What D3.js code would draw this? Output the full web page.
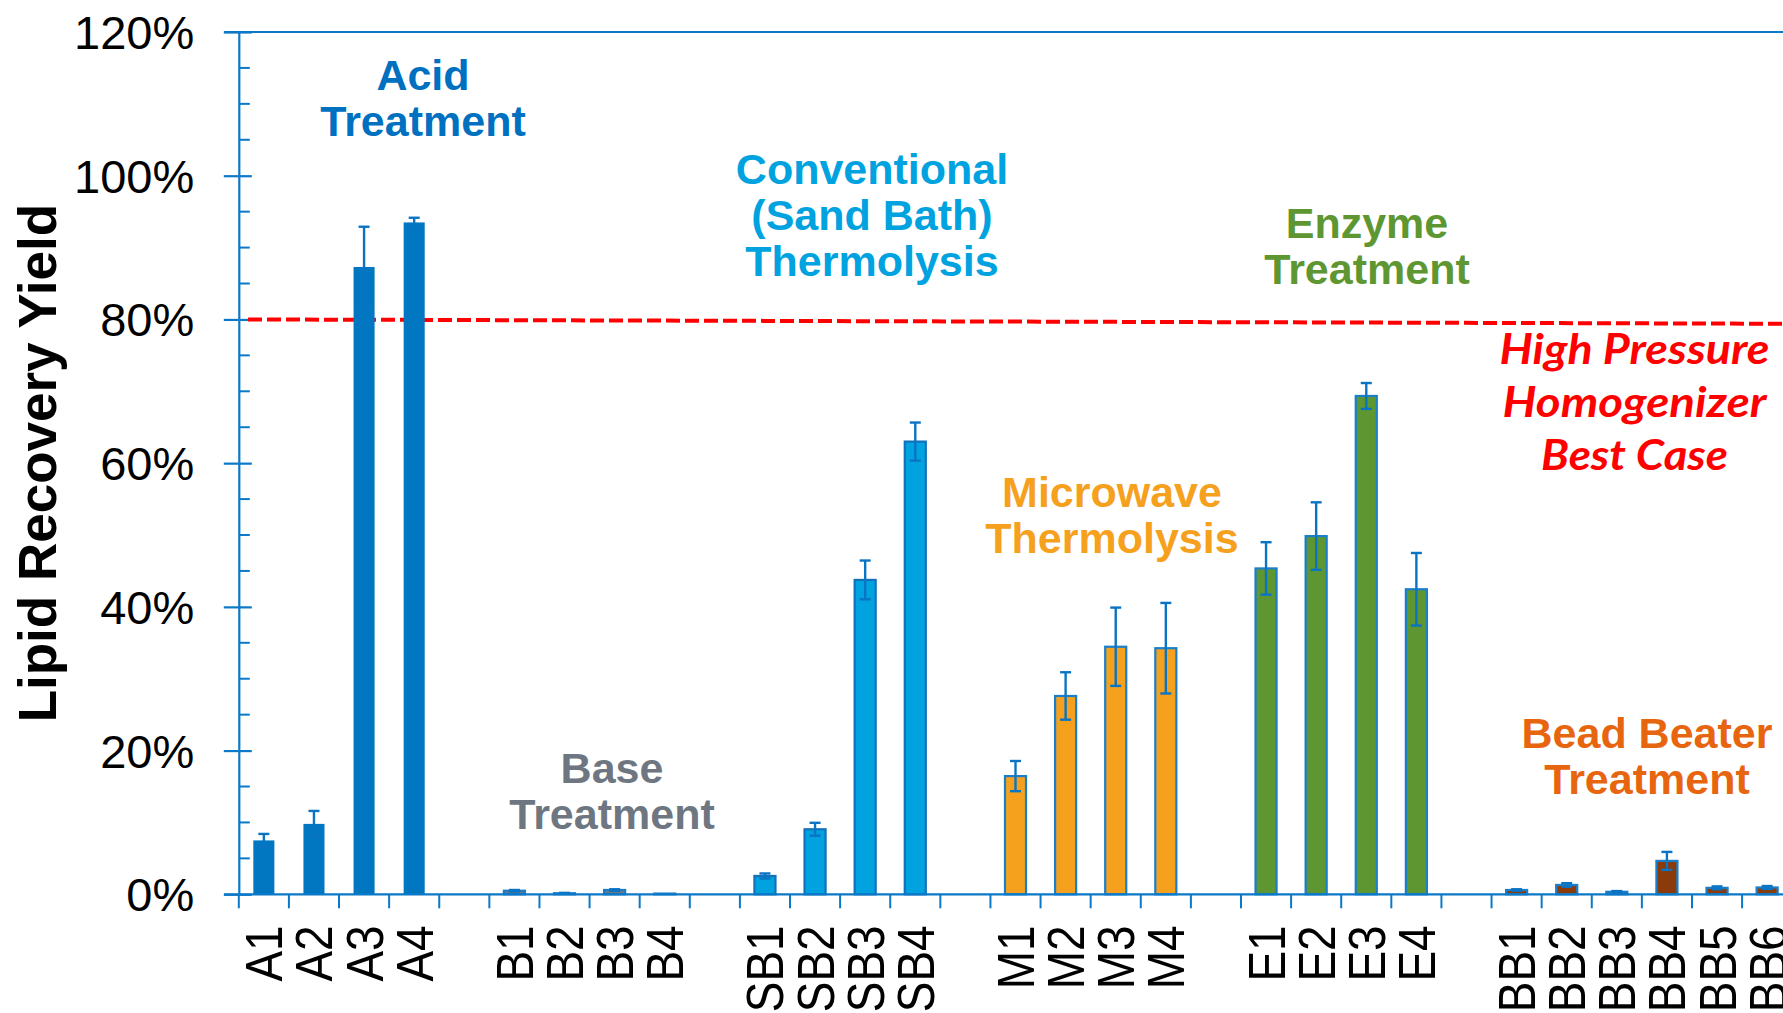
<!DOCTYPE html>
<html><head><meta charset="utf-8">
<script src="https://cdn.jsdelivr.net/npm/d3@7"></script>
<style>html,body{margin:0;padding:0;background:#fff;} svg{display:block;}</style>
</head><body><svg id="c" width="1783" height="1013"></svg>
<script>
// ---------- data ----------
const labels = ["A1","A2","A3","A4","",
  "B1","B2","B3","B4","",
  "SB1","SB2","SB3","SB4","",
  "M1","M2","M3","M4","",
  "E1","E2","E3","E4","",
  "BB1","BB2","BB3","BB4","BB5","BB6"];
const groups = ["A","A","A","A","",
  "B","B","B","B","",
  "SB","SB","SB","SB","",
  "M","M","M","M","",
  "E","E","E","E","",
  "BB","BB","BB","BB","BB","BB"];
const values = [7.5, 9.8, 87.3, 93.5, null,
  0.5, 0.15, 0.6, 0.1, null,
  2.55, 9.05, 43.75, 63.0, null,
  16.45, 27.6, 34.45, 34.25, null,
  45.35, 49.85, 69.35, 42.45, null,
  0.6, 1.3, 0.35, 4.65, 0.9, 0.95];
const errors = [0.9, 1.8, 5.6, 0.65, null,
  0.1, 0.05, 0.1, 0.0, null,
  0.35, 0.9, 2.7, 2.65, null,
  2.1, 3.3, 5.45, 6.3, null,
  3.65, 4.7, 1.8, 5.05, null,
  0.1, 0.25, 0.1, 1.25, 0.2, 0.2];
const yTicks = [0, 20, 40, 60, 80, 100, 120];
const refLine = [80, 79.4]; // "High Pressure Homogenizer Best Case" level (start, end)
const groupLabels = [
  {g:"A",  lines:["Acid","Treatment"]},
  {g:"SB", lines:["Conventional","(Sand Bath)","Thermolysis"]},
  {g:"B",  lines:["Base","Treatment"]},
  {g:"M",  lines:["Microwave","Thermolysis"]},
  {g:"E",  lines:["Enzyme","Treatment"]},
  {g:"BB", lines:["Bead Beater","Treatment"]}
];
const refLabel = ["High Pressure","Homogenizer","Best Case"];
const yTitle = "Lipid Recovery Yield";

// ---------- styles ----------
const fill = {A:"#0077C0", B:"#6E7781", SB:"#00A3E0", M:"#F5A11E", E:"#5E9732", BB:"#8B3A0A"};
const stroke = {A:"#0077C0", B:"#1A7BC6", SB:"#1371B9", M:"#1A7FCB", E:"#1A7FCB", BB:"#1A7FCB"};
const textColor = {A:"#0070C0", SB:"#00A3E0", B:"#6E7781", M:"#F5A11E", E:"#5E9732", BB:"#E8650F"};
const labelPos = {A:[423,90], SB:[872,183.5], B:[612,782.5], M:[1112,506.5], E:[1367,237.5], BB:[1647,747.5]};
const axisColor = "#0B78C8";

const svg = d3.select("#c");
const W = 1783;
const y = d3.scaleLinear().domain([0,120]).range([894.3, 32]);
const x0 = 238.8, x1 = 1792.2;
const x = d3.scaleBand().domain(d3.range(labels.length)).range([x0, x1]).paddingInner(0.58).paddingOuter(0.29);
const xb = d3.scaleLinear().domain([0, labels.length]).range([x0, x1]);

// top border line
svg.append("line").attr("x1",224).attr("x2",W).attr("y1",y(120)).attr("y2",y(120))
  .attr("stroke",axisColor).attr("stroke-width",2.2);

// y axis
const ya = svg.append("g").attr("transform",`translate(${x0},0)`)
  .call(d3.axisLeft(y).tickValues(yTicks).tickFormat(d=>d+"%").tickSize(15).tickSizeOuter(0));
ya.select(".domain").attr("stroke",axisColor).attr("stroke-width",2.2);
ya.selectAll(".tick line").attr("stroke",axisColor).attr("stroke-width",2.2).attr("x1",13);
ya.selectAll(".tick text").attr("x",-44.5).attr("dy",null).attr("dominant-baseline",null)
  .attr("y",16.5).attr("fill","#000").attr("font-family","'Liberation Sans',Arial,sans-serif")
  .attr("font-size",47);
// minor ticks
const minor = d3.range(5,120,5).filter(v=>v%20!==0);
svg.append("g").selectAll("line").data(minor).join("line")
  .attr("x1",x0).attr("x2",x0+11).attr("y1",d=>y(d)).attr("y2",d=>y(d))
  .attr("stroke",axisColor).attr("stroke-width",2);

// y title
svg.append("text").attr("transform",`translate(55.5,${(y(0)+y(120))/2}) rotate(-90)`)
  .attr("text-anchor","middle").attr("font-family","'Liberation Sans',Arial,sans-serif")
  .attr("font-weight","bold").attr("font-size",53).attr("fill","#000").text(yTitle);

// reference dashed line
svg.append("line").attr("x1",248).attr("x2",W).attr("y1",y(refLine[0])).attr("y2",y(refLine[1]))
  .attr("stroke","#FF0000").attr("stroke-width",4).attr("stroke-dasharray","14,5");

// bars
const idx = d3.range(labels.length).filter(i=>values[i]!==null);
svg.append("g").selectAll("rect").data(idx).join("rect")
  .attr("x",i=>x(i)).attr("width",x.bandwidth())
  .attr("y",i=>y(values[i])).attr("height",i=>y(0)-y(values[i]))
  .attr("fill",i=>fill[groups[i]]).attr("stroke",i=>stroke[groups[i]])
  .attr("stroke-width",i=>groups[i]==="A"?0:2.2);

// error bars
const eg = svg.append("g").attr("stroke","#0A74C4").attr("stroke-width",2.4);
idx.filter(i=>errors[i]>0).forEach(i=>{
  const cx = x(i)+x.bandwidth()/2, hi = y(values[i]+errors[i]), lo = y(Math.max(0,values[i]-errors[i]));
  eg.append("line").attr("x1",cx).attr("x2",cx).attr("y1",hi).attr("y2",lo);
  eg.append("line").attr("x1",cx-5.5).attr("x2",cx+5.5).attr("y1",hi).attr("y2",hi);
  eg.append("line").attr("x1",cx-5.5).attr("x2",cx+5.5).attr("y1",lo).attr("y2",lo);
});

// x axis
svg.append("line").attr("x1",224).attr("x2",W).attr("y1",y(0)).attr("y2",y(0))
  .attr("stroke",axisColor).attr("stroke-width",2.2);
svg.append("g").selectAll("line").data(d3.range(labels.length+1)).join("line")
  .attr("x1",d=>xb(d)).attr("x2",d=>xb(d)).attr("y1",y(0)).attr("y2",y(0)+14)
  .attr("stroke",axisColor).attr("stroke-width",2);
const xa = svg.append("g").attr("transform",`translate(0,${y(0)})`)
  .call(d3.axisBottom(x).tickFormat(i=>labels[i]).tickSize(0));
xa.select(".domain").remove();
xa.selectAll(".tick text").attr("transform","translate(18.5,31) scale(1.12,1) rotate(-90)")
  .attr("text-anchor","end").attr("dy",null).attr("y",0).attr("x",0)
  .attr("fill","#000").attr("font-family","'Liberation Sans',Arial,sans-serif").attr("font-size",46);

// group labels
groupLabels.forEach(gl=>{
  const [cx,by] = labelPos[gl.g];
  const t = svg.append("text").attr("text-anchor","middle")
    .attr("font-family","'Liberation Sans',Arial,sans-serif").attr("font-weight","bold")
    .attr("font-size",43).attr("fill",textColor[gl.g]);
  gl.lines.forEach((ln,k)=>t.append("tspan").attr("x",cx).attr("y",by+k*46).text(ln));
});
// reference label
const rl = svg.append("text").attr("text-anchor","middle")
  .attr("font-family","Lato,'Open Sans',sans-serif").attr("font-weight","bold").attr("font-style","italic")
  .attr("font-size",42).attr("fill","#FF0000");
const rw = [270,264,187];
refLabel.forEach((ln,k)=>rl.append("tspan").attr("x",1634.5).attr("y",363.5+k*53)
  .attr("textLength",rw[k]).attr("lengthAdjust","spacingAndGlyphs").text(ln));
</script></body></html>
